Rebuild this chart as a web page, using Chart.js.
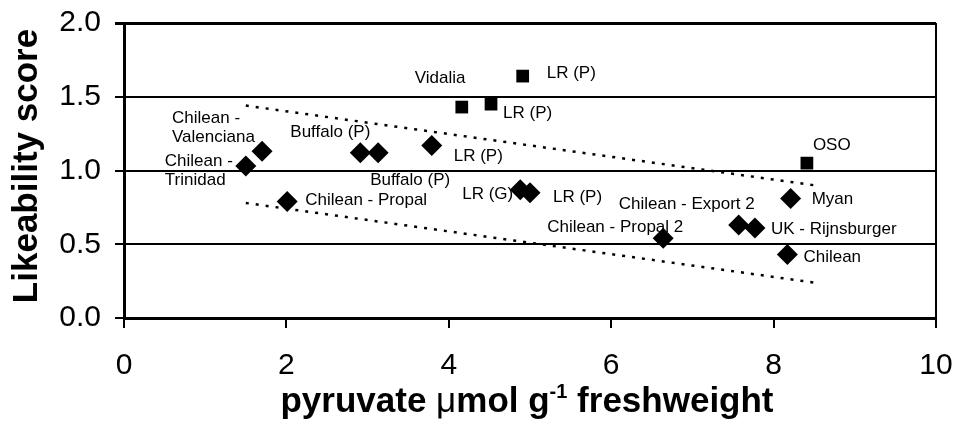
<!DOCTYPE html>
<html>
<head>
<meta charset="utf-8">
<script src="https://cdn.jsdelivr.net/npm/chart.js@4.4.0/dist/chart.umd.min.js"></script>
<style>
  html, body { margin: 0; padding: 0; background: #ffffff; }
  #wrap { width: 956px; height: 425px; }
</style>
</head>
<body>
<div id="wrap"><canvas id="c" width="956" height="425"></canvas></div>
<script>
// ---- data ----
const diamondLabels = ["Chilean - Trinidad", "Chilean - Valenciana", "Chilean - Propal", "Buffalo (P)", "Buffalo (P)", "LR (P)", "LR (G)", "LR (P)", "Chilean - Propal 2", "Chilean - Export 2", "UK - Rijnsburger", "Myan", "Chilean"];
const diamondX = [1.50, 1.70, 2.01, 2.91, 3.13, 3.79, 4.88, 5.00, 6.64, 7.57, 7.77, 8.21, 8.17];
const diamondY = [1.03, 1.13, 0.79, 1.12, 1.12, 1.17, 0.87, 0.85, 0.54, 0.63, 0.61, 0.81, 0.43];

const squareLabels = ["Vidalia", "LR (P)", "LR (P)", "OSO"];
const squareX = [4.16, 4.52, 4.91, 8.41];
const squareY = [1.43, 1.45, 1.64, 1.05];

const upperBandX = [1.5, 8.5];
const upperBandY = [1.44, 0.90];
const lowerBandX = [1.5, 8.5];
const lowerBandY = [0.78, 0.24];

const xTicks = [0, 2, 4, 6, 8, 10];
const yTicks = [0.0, 0.5, 1.0, 1.5, 2.0];

// ---- label layout (pixel offsets from the point, line-split text) ----
const diamondLabelLayout = [
  { lines: ["Chilean -", "Trinidad"], dx: -81, dy: -5, align: "left" },
  { lines: ["Chilean -", "Valenciana"], dx: -90, dy: -33, align: "left" },
  { lines: ["Chilean - Propal"], dx: 18, dy: -1, align: "left" },
  { lines: ["Buffalo (P)"], dx: -70, dy: -20, align: "left" },
  { lines: ["Buffalo (P)"], dx: -8, dy: 28, align: "left" },
  { lines: ["LR (P)"], dx: 22, dy: 11, align: "left" },
  { lines: ["LR (G)"], dx: -7, dy: 5, align: "right" },
  { lines: ["LR (P)"], dx: 23, dy: 5, align: "left" },
  { lines: ["Chilean - Propal 2"], dx: -116, dy: -11, align: "left" },
  { lines: ["Chilean - Export 2"], dx: -120, dy: -21, align: "left" },
  { lines: ["UK - Rijnsburger"], dx: 16, dy: 1, align: "left" },
  { lines: ["Myan"], dx: 21, dy: 1, align: "left" },
  { lines: ["Chilean"], dx: 16, dy: 3, align: "left" }
];
const squareLabelLayout = [
  { lines: ["Vidalia"], dx: -47, dy: -29, align: "left" },
  { lines: ["LR (P)"], dx: 12, dy: 9, align: "left" },
  { lines: ["LR (P)"], dx: 24, dy: -3, align: "left" },
  { lines: ["OSO"], dx: 6, dy: -18, align: "left" }
];

const FONT = "'Liberation Sans', Arial, Helvetica, sans-serif";

const toPts = (xs, ys) => xs.map((x, i) => ({ x: x, y: ys[i] }));

const pointLabelPlugin = {
  id: 'pointLabels',
  afterDatasetsDraw(chart) {
    const ctx = chart.ctx;
    ctx.save();
    ctx.fillStyle = '#000';
    ctx.font = "17px " + FONT;
    ctx.textBaseline = 'middle';
    const sets = [[0, diamondLabelLayout], [1, squareLabelLayout]];
    sets.forEach(([di, layout]) => {
      const meta = chart.getDatasetMeta(di);
      meta.data.forEach((el, i) => {
        const L = layout[i];
        ctx.textAlign = L.align;
        L.lines.forEach((t, k) => {
          ctx.fillText(t, el.x + L.dx, el.y + L.dy + k * 19);
        });
      });
    });
    ctx.restore();
  }
};

const framePlugin = {
  id: 'frame',
  afterDraw(chart) {
    const ctx = chart.ctx;
    const a = chart.chartArea;
    ctx.save();
    ctx.strokeStyle = '#000';
    ctx.lineWidth = 2;
    ctx.beginPath();
    ctx.moveTo(a.right, a.top);
    ctx.lineTo(a.right, a.bottom);
    ctx.stroke();
    ctx.restore();
  }
};

const titlePlugin = {
  id: 'axisTitles',
  afterDraw(chart) {
    const ctx = chart.ctx;
    const a = chart.chartArea;
    ctx.save();
    ctx.fillStyle = '#000';
    // y title
    ctx.translate(37, 166);
    ctx.rotate(-Math.PI / 2);
    ctx.font = "bold 35px " + FONT;
    ctx.textAlign = 'center';
    ctx.textBaseline = 'alphabetic';
    ctx.fillText('Likeability score', 0, 0);
    ctx.restore();

    // x title with superscript
    ctx.save();
    ctx.fillStyle = '#000';
    ctx.textBaseline = 'alphabetic';
    ctx.textAlign = 'left';
    const parts = [
      { t: 'pyruvate ', f: "bold 35px " + FONT, dy: 0 },
      { t: '\u03bc', f: "35px " + FONT, dy: 0 },
      { t: 'mol g', f: "bold 35px " + FONT, dy: 0 },
      { t: '-1', f: "bold 20px " + FONT, dy: -14 },
      { t: ' freshweight', f: "bold 35px " + FONT, dy: 0 }
    ];
    let total = 0;
    parts.forEach(p => { ctx.font = p.f; p.w = ctx.measureText(p.t).width; total += p.w; });
    let x = (a.left + a.right) / 2 - total / 2 - 3;
    const base = 412;
    parts.forEach(p => { ctx.font = p.f; ctx.fillText(p.t, x, base + p.dy); x += p.w; });
    ctx.restore();
  }
};

new Chart(document.getElementById('c'), {
  type: 'scatter',
  data: {
    datasets: [
      {
        label: 'diamonds',
        data: toPts(diamondX, diamondY),
        pointStyle: 'rectRot',
        pointRadius: 10.5,
        pointHoverRadius: 10.5,
        backgroundColor: '#000',
        borderColor: '#000',
        borderWidth: 0,
        order: 1
      },
      {
        label: 'squares',
        data: toPts(squareX, squareY),
        pointStyle: 'rect',
        pointRadius: 9,
        pointHoverRadius: 9,
        backgroundColor: '#000',
        borderColor: '#000',
        borderWidth: 0,
        order: 1
      },
      {
        type: 'line',
        label: 'upper',
        data: toPts(upperBandX, upperBandY),
        borderColor: '#000',
        borderWidth: 2.5,
        borderDash: [3, 7],
        pointRadius: 0,
        fill: false,
        order: 2
      },
      {
        type: 'line',
        label: 'lower',
        data: toPts(lowerBandX, lowerBandY),
        borderColor: '#000',
        borderWidth: 2.5,
        borderDash: [3, 7],
        pointRadius: 0,
        fill: false,
        order: 2
      }
    ]
  },
  options: {
    responsive: false,
    animation: false,
    devicePixelRatio: 1,
    layout: { padding: { top: 23, right: 20, left: 0, bottom: 0 } },
    plugins: { legend: { display: false }, tooltip: { enabled: false } },
    scales: {
      x: {
        type: 'linear',
        min: 0, max: 10,
        afterFit(s) { s.height = 107; s.paddingLeft = 0; s.paddingRight = 0; },
        afterBuildTicks(s) { s.ticks = xTicks.map(v => ({ value: v })); },
        ticks: { font: { size: 30, family: FONT }, color: '#000', padding: 20, maxRotation: 0 },
        grid: { drawOnChartArea: false, drawTicks: true, tickLength: 10, color: '#000', lineWidth: 2 },
        border: { display: true, color: '#000', width: 3 },
        title: { display: false }
      },
      y: {
        type: 'linear',
        min: 0, max: 2,
        afterFit(s) { s.width = 124; s.paddingTop = 0; s.paddingBottom = 0; },
        afterBuildTicks(s) { s.ticks = yTicks.map(v => ({ value: v })); },
        ticks: { font: { size: 30, family: FONT }, color: '#000', padding: 14, callback: v => Number(v).toFixed(1) },
        grid: {
          color: '#000',
          lineWidth: ctx => (ctx.tick && ctx.tick.value === 2 ? 3 : 2),
          drawTicks: true,
          tickLength: 9
        },
        border: { display: true, color: '#000', width: 3 },
        title: { display: false }
      }
    }
  },
  plugins: [pointLabelPlugin, framePlugin, titlePlugin]
});
</script>
</body>
</html>
